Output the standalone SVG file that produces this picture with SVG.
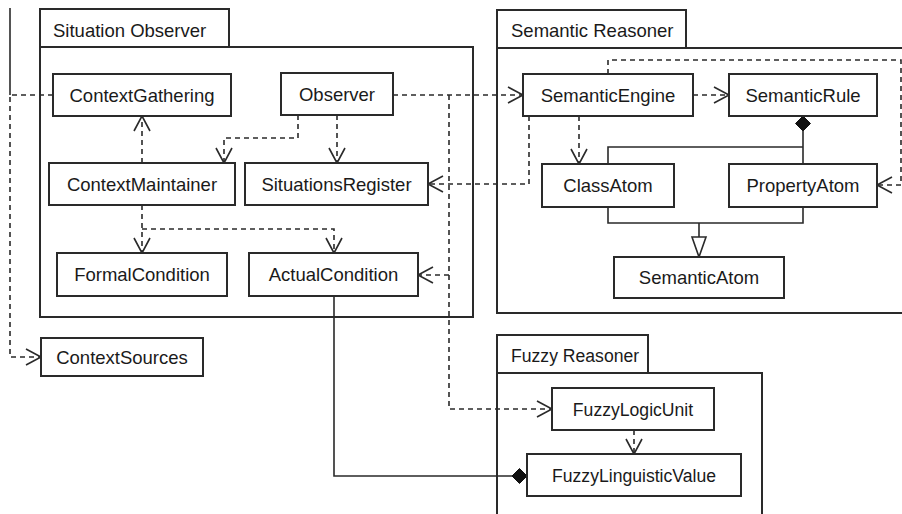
<svg xmlns="http://www.w3.org/2000/svg" width="902" height="514" viewBox="0 0 902 514">
<style>
.pkg{fill:none;stroke:#2a2a2a;stroke-width:2}
.box{fill:#fff;stroke:#2a2a2a;stroke-width:2}
.t{font-family:"Liberation Sans",Arial,sans-serif;font-size:18.5px;fill:#1a1a1a}
.c{text-anchor:middle}
.sm{font-size:17.6px}
.dep{fill:none;stroke:#2a2a2a;stroke-width:1.6;stroke-dasharray:5,4}
.sol{fill:none;stroke:#2a2a2a;stroke-width:1.6}
</style>
<defs>
<marker id="open" markerUnits="userSpaceOnUse" markerWidth="18" markerHeight="20" viewBox="-1 -1 18 20" refX="15" refY="8" orient="auto">
<path d="M0,0 L15,8 L0,16" fill="none" stroke="#2a2a2a" stroke-width="1.6" stroke-dasharray="none"/>
</marker>
</defs>

<g id="edge-line"><line x1="10" y1="8" x2="10" y2="95" class="sol"/></g>

<g id="pkg-situation-observer">
<rect x="40" y="9" width="189" height="38" class="pkg"/>
<rect x="40" y="47" width="433" height="270" class="pkg"/>
<text x="53" y="36.5" class="t">Situation Observer</text>
</g>
<g id="pkg-semantic-reasoner">
<rect x="497" y="10" width="189" height="38" class="pkg"/>
<rect x="497" y="48" width="412" height="265" class="pkg"/>
<text x="511" y="36.5" class="t">Semantic Reasoner</text>
</g>
<g id="pkg-fuzzy-reasoner">
<rect x="497" y="335" width="151" height="38" class="pkg"/>
<rect x="497" y="373" width="265" height="150" class="pkg"/>
<text x="511" y="361.5" class="t sm">Fuzzy Reasoner</text>
</g>

<g id="connectors">
<path class="dep" d="M53,95 H10 V357 H41" marker-end="url(#open)"/>
<path class="dep" d="M142,163 V116" marker-end="url(#open)"/>
<path class="dep" d="M298,115 V138 H224 V163" marker-end="url(#open)"/>
<path class="dep" d="M337,115 V163" marker-end="url(#open)"/>
<path class="dep" d="M142,205 V253" marker-end="url(#open)"/>
<path class="dep" d="M142,229 H334 V253" marker-end="url(#open)"/>
<path class="dep" d="M393,95 H523" marker-end="url(#open)"/>
<path class="dep" d="M449,95 V409 H552" marker-end="url(#open)"/>
<path class="dep" d="M449,275 H418" marker-end="url(#open)"/>
<path class="dep" d="M529,116 V184 H428" marker-end="url(#open)"/>
<path class="dep" d="M693,95 H729" marker-end="url(#open)"/>
<path class="dep" d="M579,116 V164" marker-end="url(#open)"/>
<path class="dep" d="M608,74 V60 H901 V185 H877" marker-end="url(#open)"/>
<path class="dep" d="M634,430 V454" marker-end="url(#open)"/>
<path class="sol" d="M803,131 V164 M803,147 H608 V164"/>
<polygon points="803,116 810.5,123.5 803,131 795.5,123.5" fill="#111" stroke="#111" stroke-width="1"/>
<path class="sol" d="M608,207 V223 H803 V207 M699,223 V237"/>
<polygon points="692,237 706,237 699,257" fill="#fff" stroke="#2a2a2a" stroke-width="1.6"/>
<path class="sol" d="M334,296 V476 H512"/>
<polygon points="512,476 519.5,468.5 527,476 519.5,483.5" fill="#111" stroke="#111" stroke-width="1"/>
</g>

<g id="n-contextgathering"><rect x="53" y="74" width="178" height="42" class="box"/><text x="142" y="101.5" class="t c">ContextGathering</text></g>
<g id="n-observer"><rect x="281" y="73" width="112" height="42" class="box"/><text x="337" y="100.5" class="t c">Observer</text></g>
<g id="n-contextmaintainer"><rect x="49" y="163" width="186" height="42" class="box"/><text x="142" y="190.5" class="t c">ContextMaintainer</text></g>
<g id="n-situationsregister"><rect x="245" y="163" width="183" height="42" class="box"/><text x="336.5" y="190.5" class="t c">SituationsRegister</text></g>
<g id="n-formalcondition"><rect x="57" y="253" width="170" height="43" class="box"/><text x="142" y="281" class="t c">FormalCondition</text></g>
<g id="n-actualcondition"><rect x="249" y="253" width="169" height="43" class="box"/><text x="333.5" y="281" class="t c">ActualCondition</text></g>
<g id="n-contextsources"><rect x="41" y="338" width="162" height="38" class="box"/><text x="122" y="363.5" class="t c">ContextSources</text></g>
<g id="n-semanticengine"><rect x="523" y="74" width="170" height="42" class="box"/><text x="608" y="101.5" class="t c">SemanticEngine</text></g>
<g id="n-semanticrule"><rect x="729" y="74" width="148" height="42" class="box"/><text x="803" y="101.5" class="t c">SemanticRule</text></g>
<g id="n-classatom"><rect x="542" y="164" width="132" height="43" class="box"/><text x="608" y="192" class="t c">ClassAtom</text></g>
<g id="n-propertyatom"><rect x="729" y="164" width="148" height="43" class="box"/><text x="803" y="192" class="t c">PropertyAtom</text></g>
<g id="n-semanticatom"><rect x="614" y="257" width="170" height="41" class="box"/><text x="699" y="284" class="t c">SemanticAtom</text></g>
<g id="n-fuzzylogicunit"><rect x="552" y="388" width="162" height="42" class="box"/><text x="633" y="415.5" class="t c sm">FuzzyLogicUnit</text></g>
<g id="n-fuzzylinguisticvalue"><rect x="527" y="454" width="214" height="42" class="box"/><text x="634" y="481.5" class="t c sm">FuzzyLinguisticValue</text></g>
</svg>
